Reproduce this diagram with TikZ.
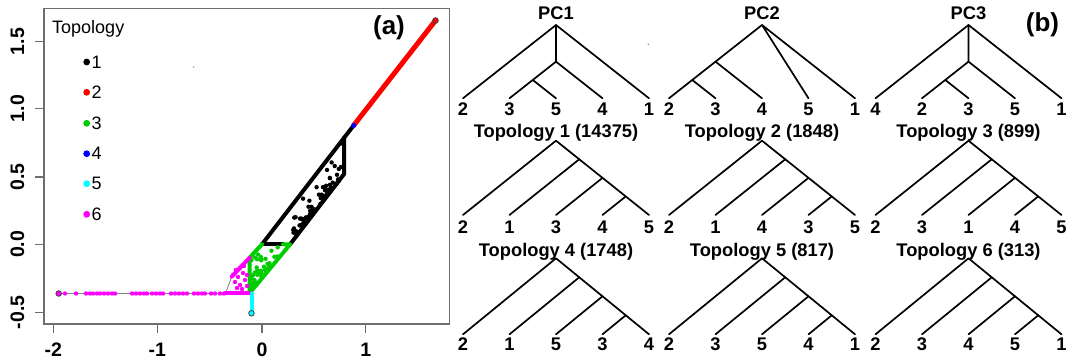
\documentclass[tikz,border=0pt]{standalone}
\usepackage{fontspec}
\setmainfont{Liberation Sans}
\definecolor{rgreen}{RGB}{0,205,0}
\definecolor{rcyan}{RGB}{0,255,255}
\definecolor{rmag}{RGB}{255,0,255}
\definecolor{framegray}{RGB}{110,110,110}
\tikzset{
  treeline/.style={line width=1.7pt, line cap=round, line join=round},
  leaflab/.style={font=\fontsize{18.3}{21}\selectfont\bfseries, anchor=base, inner sep=0pt},
  treetitle/.style={font=\fontsize{18.3}{21}\selectfont\bfseries, anchor=base, inner sep=0pt},
  ticklab/.style={font=\fontsize{19.5}{22}\selectfont\bfseries, inner sep=0pt},
  leglab/.style={font=\fontsize{18}{20}\selectfont, anchor=west, inner sep=0pt},
  panellab/.style={font=\fontsize{26}{29}\selectfont\bfseries, inner sep=0pt},
  plotframe/.style={draw=framegray, line width=1.3pt},
  fatline/.style={line width=4pt, line cap=round, line join=round},
}
\newcommand\treeleaves[5]{%
  \foreach \lab [count=\k from 0] in {#5}{%
    \coordinate (#1t\k) at ({#2+(\k-2)*46.5},#3);
    \node[leaflab] (#1l\k) at ({#2+(\k-2)*46.5},#4) {\lab};
  }}
% caterpillar tree: #1 prefix, #2 cx, #3 tip y, #4 depth
\newcommand\cattree[4]{%
  \coordinate (#1r) at (#2,{#3-#4});
  \coordinate (#1m1) at ({#2+23.25},{#3-0.75*#4});
  \coordinate (#1m2) at ({#2+46.5},{#3-0.5*#4});
  \coordinate (#1m3) at ({#2+69.75},{#3-0.25*#4});
  \draw[treeline] (#1t0) -- (#1r) -- (#1m1) -- (#1m2) -- (#1m3) -- (#1t4);
  \draw[treeline] (#1m1) -- (#1t1) (#1m2) -- (#1t2) (#1m3) -- (#1t3);
}
% PC1/PC3 type tree
\newcommand\pctreeA[4]{%
  \coordinate (#1r) at (#2,{#3-#4});
  \coordinate (#1n2) at (#2,{#3-0.5*#4});
  \coordinate (#1n1) at ({#2-23.25},{#3-0.25*#4});
  \draw[treeline] (#1t0) -- (#1r) -- (#1t4);
  \draw[treeline] (#1r) -- (#1n2) -- (#1t3);
  \draw[treeline] (#1n2) -- (#1n1) -- (#1t1) (#1n1) -- (#1t2);
}
% PC2 type tree
\newcommand\pctreeB[4]{%
  \coordinate (#1r) at (#2,{#3-#4});
  \coordinate (#1n2) at ({#2-46.5},{#3-0.5*#4});
  \coordinate (#1n1) at ({#2-69.75},{#3-0.25*#4});
  \draw[treeline] (#1r) -- (#1t3) (#1r) -- (#1t4);
  \draw[treeline] (#1r) -- (#1n2) -- (#1t2);
  \draw[treeline] (#1n2) -- (#1n1) -- (#1t0) (#1n1) -- (#1t1);
}
\begin{document}
\begin{tikzpicture}[x=1pt,y=-1pt]
\useasboundingbox (0,0) rectangle (1068,363);
% ---------------- panel (a) ----------------
\draw[plotframe] (44,8.3) rectangle (449.3,324);
\foreach \v/\xx [count=\k] in {-2/53.3,-1/157.3,0/262,1/365.7}{
  \draw[plotframe] (\xx,324) -- (\xx,333);
  \node[ticklab] (xt\k) at (\xx,350) {\v};
}
\foreach \v/\yy [count=\k] in {-0.5/312.3,0.0/244.3,0.5/177,1.0/108.7,1.5/41.7}{
  \draw[plotframe] (44,\yy) -- (35,\yy);
  \node[ticklab, rotate=90] (yt\k) at (17.5,\yy) {\v};
}
% legend
\node[leglab, anchor=base west] (legtitle) at (52,33.3) {Topology};
\foreach \c/\yy [count=\k] in {black/62,red/92.3,rgreen/123.3,blue/153.7,rcyan/183.7,rmag/214.3}{
  \fill[\c] (86.7,\yy) circle (3.4pt);
  \node[leglab] (leg\k) at (91.5,\yy) {\k};
}
\node[panellab] (pa) at (389,27.5) {(a)};
% stray specks
\fill[black!60] (193.7,67) circle (0.7pt);
\fill[black!50] (648.3,44.3) circle (0.8pt);
% thin gray lines
\draw[gray, line width=0.8pt] (58.7,293.5) -- (249.5,293.5);
\draw[gray, line width=0.8pt] (231.7,276.7) -- (225.5,293.5);
% red
\draw[red, line width=5pt] (353.6,125.5) -- (435.5,20.5);
% black region
\draw[black, fatline] (262,244.3) -- (353.6,125.5);
\draw[black, fatline] (344.2,137.4) -- (344.2,173.9) -- (290.1,244.3);
\draw[black, fatline] (262,244.3) -- (283,244.3);
\pgfmathsetseed{11}
\foreach \i in {1,...,70}{
  \pgfmathsetmacro\xd{0.3+0.48*rnd}
  \pgfmathsetmacro\od{0.26*rnd*rnd}
  \pgfmathsetmacro\px{262+104.1*\xd}
  \pgfmathsetmacro\py{244.3-135.3*(\xd-0.27+\od)}
  \fill[black] (\px,\py) circle (2.2pt);
}
% green region
\draw[rgreen, fatline] (283,244.3) -- (290.1,244.3) -- (249.5,293.3) -- (249.5,257.8) -- (262,244.3);
\pgfmathsetseed{5}
\foreach \i in {1,...,38}{
  \pgfmathsetmacro\yd{-0.33+0.31*rnd}
  \pgfmathsetmacro\xl{-0.11+1.2*max(\yd+0.1,0)}
  \pgfmathsetmacro\xr{-0.14+1.083*(\yd+0.36)}
  \pgfmathsetmacro\xd{\xl+(\xr-\xl)*rnd}
  \pgfmathsetmacro\px{262+104.1*\xd}
  \pgfmathsetmacro\py{244.3-135.3*\yd}
  \fill[rgreen] (\px,\py) circle (2.2pt);
}
% magenta
\draw[rmag, fatline] (249.5,257.8) -- (231.7,276.7);
\draw[rmag, fatline] (225.5,293.5) -- (249.5,293.5);
\foreach \px/\py in {236/270,240/268,233/275,238/277,243/273,245/280,235/282,240/285,247/286,242/289,237/288,244/266,247/275}{
  \fill[rmag] (\px,\py) circle (2.2pt);
}
\foreach \px in {65,76,86,90,93,97,100,104,108,112,115,132,136,140,144,147,152,156,160,163,171,175,179,183,187,194,198,202,205,211,215,220,224}{
  \fill[rmag] (\px,293.5) circle (2.2pt);
}
% cyan
\draw[rcyan, fatline] (251.5,293.5) -- (251.5,313.3);
% special points
\fill[blue] (353.6,125.5) circle (2.6pt);
\filldraw[fill=rmag, draw=black!75, line width=0.8pt] (58.7,293.5) circle (2.8pt);
\filldraw[fill=rcyan, draw=black!75, line width=0.8pt] (251.5,313.3) circle (2.8pt);
\filldraw[fill=red, draw=black!75, line width=0.8pt] (435.5,20.5) circle (2.8pt);
% ---------------- panel (b) ----------------
\node[panellab] (pb) at (1042.5,25) {(b)};
% row 1
\node[treetitle] (pc1) at (556,20) {PC1};
\node[treetitle] (pc2) at (762,20) {PC2};
\node[treetitle] (pc3) at (968.5,20) {PC3};
\treeleaves{a}{556}{98.3}{116}{2,3,5,4,1}
\treeleaves{b}{762}{98.3}{116}{2,3,4,5,1}
\treeleaves{c}{968.5}{98.3}{116}{4,2,3,5,1}
\pctreeA{a}{556}{98.3}{73.3}
\pctreeB{b}{762}{98.3}{73.3}
\pctreeA{c}{968.5}{98.3}{73.3}
% row 2
\node[treetitle] (t1) at (556,137.6) {Topology 1 (14375)};
\node[treetitle] (t2) at (762,137.6) {Topology 2 (1848)};
\node[treetitle] (t3) at (968.5,137.6) {Topology 3 (899)};
\treeleaves{d}{556}{215}{234}{2,1,3,4,5}
\treeleaves{e}{762}{215}{234}{2,1,4,3,5}
\treeleaves{f}{968.5}{215}{234}{2,3,1,4,5}
\cattree{d}{556}{215}{74.3}
\cattree{e}{762}{215}{74.3}
\cattree{f}{968.5}{215}{74.3}
% row 3
\node[treetitle] (t4) at (556,256.4) {Topology 4 (1748)};
\node[treetitle] (t5) at (762,256.4) {Topology 5 (817)};
\node[treetitle] (t6) at (968.5,256.4) {Topology 6 (313)};
\treeleaves{g}{556}{334.3}{350.5}{2,1,5,3,4}
\treeleaves{h}{762}{334.3}{350.5}{2,3,5,4,1}
\treeleaves{i}{968.5}{334.3}{350.5}{2,3,4,5,1}
\cattree{g}{556}{334.3}{76}
\cattree{h}{762}{334.3}{76}
\cattree{i}{968.5}{334.3}{76}
\end{tikzpicture}
\end{document}
